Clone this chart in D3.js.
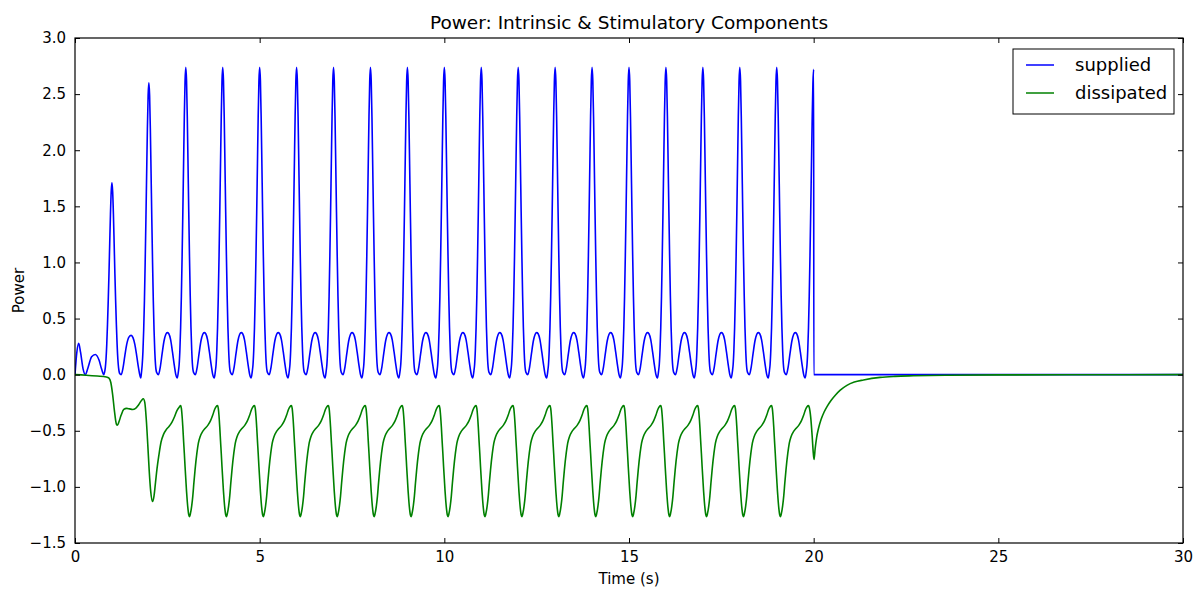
<!DOCTYPE html>
<html>
<head>
<meta charset="utf-8">
<script src="https://cdn.jsdelivr.net/npm/d3@7/dist/d3.min.js"></script>
<style>
  body { margin: 0; background: #fff; }
  svg { display: block; }
  text { font-family: "DejaVu Sans", sans-serif; fill: #000; }
</style>
</head>
<body>
<svg id="chart" width="1197" height="590"></svg>
<script>
// ---------- data ----------
const xTicks = [0, 5, 10, 15, 20, 25, 30];
const yTicks = [-1.5, -1.0, -0.5, 0.0, 0.5, 1.0, 1.5, 2.0, 2.5, 3.0];

// supplied power: irregular start (t = 0 .. 2.77 s)
const suppliedStartT = [0, 0.05, 0.1, 0.15, 0.22, 0.28, 0.35, 0.45, 0.55, 0.65, 0.72, 0.78,
  0.8, 0.82, 0.84, 0.86, 0.88, 0.9, 0.92, 0.94, 0.96, 0.98, 1.0, 1.02, 1.04, 1.06, 1.08, 1.1, 1.12, 1.14, 1.16, 1.18, 1.21, 1.25,
  1.3, 1.35, 1.4, 1.46, 1.52, 1.57, 1.62, 1.67, 1.72, 1.78,
  1.8, 1.82, 1.84, 1.86, 1.88, 1.9, 1.92, 1.94, 1.96, 1.98, 2.0, 2.02, 2.04, 2.06, 2.08, 2.1, 2.12, 2.14, 2.16, 2.18, 2.21, 2.26,
  2.31, 2.36, 2.41, 2.46, 2.5, 2.54, 2.59, 2.64, 2.69, 2.73, 2.77];
const suppliedStartV = [0, 0.2, 0.28, 0.2, 0.05, 0.0, 0.06, 0.16, 0.18, 0.13, 0.05, 0.0,
  0.02, 0.06, 0.14, 0.27, 0.45, 0.66, 0.9, 1.17, 1.43, 1.63, 1.71, 1.63, 1.43, 1.17, 0.9, 0.66, 0.45, 0.27, 0.14, 0.06, 0.01, 0.0,
  0.06, 0.17, 0.27, 0.335, 0.35, 0.33, 0.27, 0.17, 0.06, -0.03,
  0.02, 0.09, 0.21, 0.4, 0.66, 1.0, 1.38, 1.79, 2.19, 2.49, 2.6, 2.49, 2.19, 1.79, 1.38, 1.0, 0.66, 0.4, 0.21, 0.09, 0.02, 0.0,
  0.07, 0.19, 0.3, 0.36, 0.375, 0.365, 0.31, 0.2, 0.08, 0.0, -0.03];

// supplied power: one steady cycle, offsets from the peak time
const suppliedCycleOffset = [-0.2, -0.18, -0.16, -0.14, -0.12, -0.1, -0.08, -0.06, -0.04, -0.02, 0,
  0.02, 0.04, 0.06, 0.08, 0.1, 0.12, 0.14, 0.16, 0.18, 0.21, 0.26,
  0.31, 0.36, 0.41, 0.46, 0.5, 0.54, 0.59, 0.64, 0.69, 0.73, 0.77];
const suppliedCycleV = [0.03, 0.09, 0.22, 0.42, 0.7, 1.05, 1.45, 1.88, 2.3, 2.62, 2.74,
  2.62, 2.3, 1.88, 1.45, 1.05, 0.7, 0.42, 0.22, 0.09, 0.02, 0.0,
  0.07, 0.19, 0.3, 0.36, 0.375, 0.365, 0.31, 0.2, 0.08, 0.0, -0.03];

// peak times of the steady cycles
const steadyPeaks = [3, 4, 5, 6, 7, 8, 9, 10, 11, 12, 13, 14, 15, 16, 17, 18, 19];

// supplied power: last peak and switch-off
const suppliedTailT = [19.8, 19.82, 19.84, 19.86, 19.88, 19.9, 19.92, 19.94, 19.96, 19.98, 20.0, 20.004, 25, 30];
const suppliedTailV = [0.03, 0.09, 0.22, 0.42, 0.7, 1.05, 1.45, 1.87, 2.28, 2.6, 2.72, 0.0, 0.0, 0.0];

// dissipated power: irregular start (t = 0 .. 2.82 s)
const dissipatedStartT = [0, 0.3, 0.6, 0.85, 0.92, 0.97, 1.02, 1.07, 1.12, 1.15, 1.19, 1.25, 1.32, 1.4, 1.48, 1.56, 1.64,
  1.72, 1.8, 1.85, 1.89, 1.93, 1.97, 2.01, 2.05, 2.1, 2.14, 2.18, 2.22, 2.27, 2.33, 2.4, 2.47, 2.55, 2.63, 2.7, 2.76, 2.82];
const dissipatedStartV = [0, -0.005, -0.012, -0.02, -0.03, -0.07, -0.18, -0.33, -0.44, -0.45, -0.42, -0.36, -0.31, -0.30, -0.305, -0.31, -0.30,
  -0.27, -0.23, -0.215, -0.25, -0.4, -0.62, -0.86, -1.04, -1.13, -1.08, -0.96, -0.84, -0.72, -0.6, -0.53, -0.49, -0.46, -0.42, -0.37, -0.32, -0.29];

// dissipated power: one steady cycle, offsets from the supplied peak time
const dissipatedCycleOffset = [-0.14, -0.12, -0.1, -0.08, -0.06, -0.04, -0.02, 0.0, 0.02, 0.04, 0.06, 0.08, 0.1,
  0.13, 0.16, 0.19, 0.22, 0.25, 0.3, 0.34, 0.39, 0.45, 0.52, 0.6, 0.67, 0.73, 0.78, 0.82];
const dissipatedCycleV = [-0.276, -0.30, -0.37, -0.47, -0.59, -0.70, -0.82, -0.93, -1.04, -1.13, -1.2, -1.25, -1.265,
  -1.23, -1.17, -1.08, -0.96, -0.85, -0.70, -0.61, -0.55, -0.51, -0.48, -0.45, -0.41, -0.36, -0.31, -0.285];

// dissipated power: last beat and relaxation
const dissipatedTailT = [19.86, 19.88, 19.92, 19.96, 19.99, 20.01, 20.04, 20.08, 20.13, 20.2, 20.28, 20.37, 20.47, 20.58,
  20.72, 20.9, 21.1, 21.35, 21.8, 22.2, 22.7, 23.6, 25, 27, 30];
const dissipatedTailV = [-0.276, -0.29, -0.38, -0.55, -0.70, -0.755, -0.66, -0.56, -0.48, -0.40, -0.335, -0.28, -0.23, -0.185,
  -0.138, -0.095, -0.066, -0.047, -0.024, -0.015, -0.01, -0.005, -0.002, -0.001, 0];

const seriesNames = ["supplied", "dissipated"];
const seriesColors = ["#0000ff", "#008000"];

// ---------- build series ----------
function buildSeries(startT, startV, cycOff, cycV, tailT, tailV) {
  const pts = startT.map((t, i) => [t, startV[i]]);
  steadyPeaks.forEach(p => cycOff.forEach((o, i) => pts.push([p + o, cycV[i]])));
  tailT.forEach((t, i) => pts.push([t, tailV[i]]));
  return pts;
}
const supplied = buildSeries(suppliedStartT, suppliedStartV, suppliedCycleOffset, suppliedCycleV, suppliedTailT, suppliedTailV);
const dissipated = buildSeries(dissipatedStartT, dissipatedStartV, dissipatedCycleOffset, dissipatedCycleV, dissipatedTailT, dissipatedTailV);

// ---------- layout ----------
const plot = { left: 75, right: 1183, top: 38, bottom: 543 };
const svg = d3.select("#chart");

const x = d3.scaleLinear().domain([0, 30]).range([plot.left, plot.right]);
const y = d3.scaleLinear().domain([-1.5, 3.0]).range([plot.bottom, plot.top]);

svg.append("defs").append("clipPath").attr("id", "clip")
  .append("rect").attr("x", plot.left).attr("y", plot.top)
  .attr("width", plot.right - plot.left).attr("height", plot.bottom - plot.top);

const line = d3.line().x(d => x(d[0])).y(d => y(d[1])).curve(d3.curveMonotoneX);

const g = svg.append("g").attr("clip-path", "url(#clip)");
[supplied, dissipated].forEach((s, i) => {
  g.append("path").attr("d", line(s)).attr("fill", "none")
    .attr("stroke", seriesColors[i]).attr("stroke-width", 1.6)
    .attr("stroke-linejoin", "round");
});

// ---------- axes (ticks inward on all four sides) ----------
const tl = 5;
const fmt = d3.format(".1f");
const fmtY = v => fmt(v).replace("-", "\u2212");
const axB = d3.axisBottom(x).tickValues(xTicks).tickSize(-tl).tickPadding(8).tickFormat(d3.format("d"));
const axT = d3.axisTop(x).tickValues(xTicks).tickSize(-tl).tickFormat("");
const axL = d3.axisLeft(y).tickValues(yTicks).tickSize(-tl).tickPadding(9).tickFormat(fmtY);
const axR = d3.axisRight(y).tickValues(yTicks).tickSize(-tl).tickFormat("");

function styleAxis(sel) {
  sel.select(".domain").remove();
  sel.selectAll(".tick line").attr("stroke", "#000").attr("stroke-width", 1);
  sel.selectAll(".tick text").style("font-size", "15px").style("font-family", "DejaVu Sans").attr("fill", "#000");
}
svg.append("g").attr("transform", `translate(0,${plot.bottom})`).call(axB).call(styleAxis);
svg.append("g").attr("transform", `translate(0,${plot.top})`).call(axT).call(styleAxis);
svg.append("g").attr("transform", `translate(${plot.left},0)`).call(axL).call(styleAxis);
svg.append("g").attr("transform", `translate(${plot.right},0)`).call(axR).call(styleAxis);

svg.append("rect").attr("x", plot.left).attr("y", plot.top)
  .attr("width", plot.right - plot.left).attr("height", plot.bottom - plot.top)
  .attr("fill", "none").attr("stroke", "#000").attr("stroke-width", 1.2);

// ---------- labels ----------
svg.append("text").attr("x", (plot.left + plot.right) / 2).attr("y", 29)
  .attr("text-anchor", "middle").style("font-size", "18.5px")
  .text("Power: Intrinsic & Stimulatory Components");
svg.append("text").attr("x", (plot.left + plot.right) / 2).attr("y", 584)
  .attr("text-anchor", "middle").style("font-size", "15px").text("Time (s)");
svg.append("text").attr("transform", `translate(24,${(plot.top + plot.bottom) / 2}) rotate(-90)`)
  .attr("text-anchor", "middle").style("font-size", "15px").text("Power");

// ---------- legend ----------
const lg = svg.append("g");
lg.append("rect").attr("x", 1013).attr("y", 49).attr("width", 161).attr("height", 65)
  .attr("fill", "#fff").attr("stroke", "#000").attr("stroke-width", 1);
seriesNames.forEach((n, i) => {
  const yy = 65 + i * 28;
  lg.append("line").attr("x1", 1026).attr("x2", 1054).attr("y1", yy).attr("y2", yy)
    .attr("stroke", seriesColors[i]).attr("stroke-width", 1.5);
  lg.append("text").attr("x", 1075).attr("y", yy + 6).style("font-size", "18px").text(n);
});
</script>
</body>
</html>
